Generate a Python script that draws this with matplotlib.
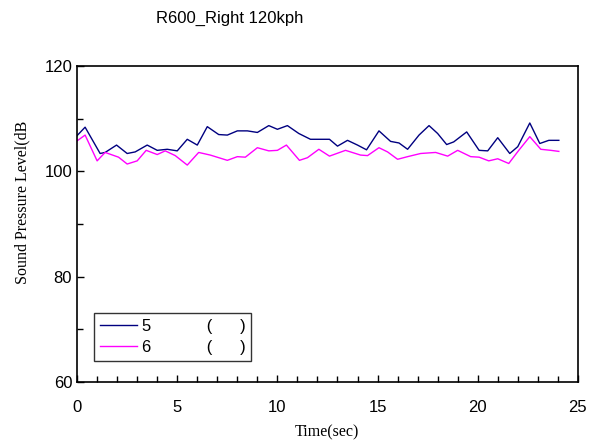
import matplotlib.pyplot as plt
from matplotlib.ticker import MultipleLocator

# time axis (sec) and sound pressure level (dB)
t5 = [0, 0.4, 1.15, 1.4, 1.97, 2.5, 2.9, 3.5, 4.0, 4.5, 5.0, 5.5, 6.0, 6.5,
      7.07, 7.5, 8.0, 8.5, 9.0, 9.57, 10.0, 10.5, 11.07, 11.65, 12.15, 12.6,
      13.0, 13.5, 14.0, 14.45, 15.07, 15.65, 16.07, 16.5, 17.07, 17.57, 18.0,
      18.45, 18.8, 19.45, 20.07, 20.5, 21.0, 21.6, 22.0, 22.6, 23.1, 23.55, 24.05]
spl5 = [106.8, 108.4, 103.4, 103.6, 105.0, 103.4, 103.7, 105.0, 104.0, 104.2,
        103.9, 106.1, 105.0, 108.5, 107.0, 106.9, 107.7, 107.7, 107.4, 108.7,
        108.0, 108.7, 107.2, 106.1, 106.1, 106.1, 104.8, 105.9, 105.0, 104.1,
        107.7, 105.7, 105.4, 104.2, 106.9, 108.7, 107.2, 105.1, 105.6, 107.5,
        104.0, 103.9, 106.4, 103.4, 104.7, 109.2, 105.3, 105.9, 105.9]

t6 = [0, 0.4, 1.0, 1.4, 2.07, 2.5, 3.0, 3.45, 4.0, 4.4, 4.9, 5.5, 6.07, 6.65,
      7.5, 8.0, 8.4, 9.0, 9.57, 10.0, 10.45, 11.1, 11.5, 12.07, 12.6, 13.4,
      14.15, 14.5, 15.07, 15.5, 16.0, 16.5, 17.15, 17.9, 18.5, 19.0, 19.65,
      20.07, 20.55, 21.0, 21.55, 22.05, 22.6, 23.15, 23.65, 24.05]
spl6 = [105.8, 106.9, 102.0, 103.6, 102.7, 101.4, 102.0, 104.0, 103.2, 103.9,
        103.0, 101.2, 103.6, 103.1, 102.1, 102.8, 102.7, 104.5, 103.9, 104.0,
        105.0, 102.1, 102.6, 104.2, 102.9, 104.0, 103.1, 103.0, 104.5, 103.7,
        102.3, 102.8, 103.4, 103.6, 102.9, 104.0, 102.8, 102.7, 102.0, 102.4,
        101.5, 104.0, 106.6, 104.2, 104.0, 103.8]

plt.rcParams['font.family'] = ['Liberation Sans', 'DejaVu Sans']

fig = plt.figure(figsize=(6.07, 4.44), dpi=100)
ax = fig.add_axes([0.127, 0.14, 0.825, 0.711])

ax.plot(t5, spl5, color='#000080', lw=1.0, label='5            (      )')
ax.plot(t6, spl6, color='#FF00FF', lw=1.0, label='6            (      )')

ax.set_xlim(0, 25)
ax.set_ylim(60, 120)
ax.xaxis.set_major_locator(MultipleLocator(5))
ax.xaxis.set_minor_locator(MultipleLocator(1))
ax.yaxis.set_major_locator(MultipleLocator(20))
ax.yaxis.set_minor_locator(MultipleLocator(10))
ax.tick_params(which='both', direction='in', labelsize=12, width=1)
ax.tick_params(which='major', length=5)
ax.tick_params(which='minor', length=4)
ax.tick_params(axis='x', pad=13)
for s in ax.spines.values():
    s.set_linewidth(1.2)

fig.text(230 / 607, 1 - 18 / 444, 'R600_Right 120kph', ha='center', va='center', fontsize=12)
fig.text(22 / 607, 1 - 202 / 444, 'Sound Pressure Level(dB', rotation=90,
         ha='center', va='center', fontsize=11.5, family='Liberation Serif')
fig.text(327 / 607, 1 - 432 / 444, 'Time(sec)', ha='center', va='center',
         fontsize=11.5, family='Liberation Serif')

leg = ax.legend(loc='lower left', bbox_to_anchor=(0.034, 0.066, 0.313, 0.162),
                mode='expand', fontsize=12, frameon=True, fancybox=False,
                handlelength=2.2, handletextpad=0.3, borderpad=0.35,
                labelspacing=0.4, borderaxespad=0)
leg.get_frame().set_edgecolor('black')
leg.get_frame().set_linewidth(1.0)

fig.savefig('out.png', dpi=100)
